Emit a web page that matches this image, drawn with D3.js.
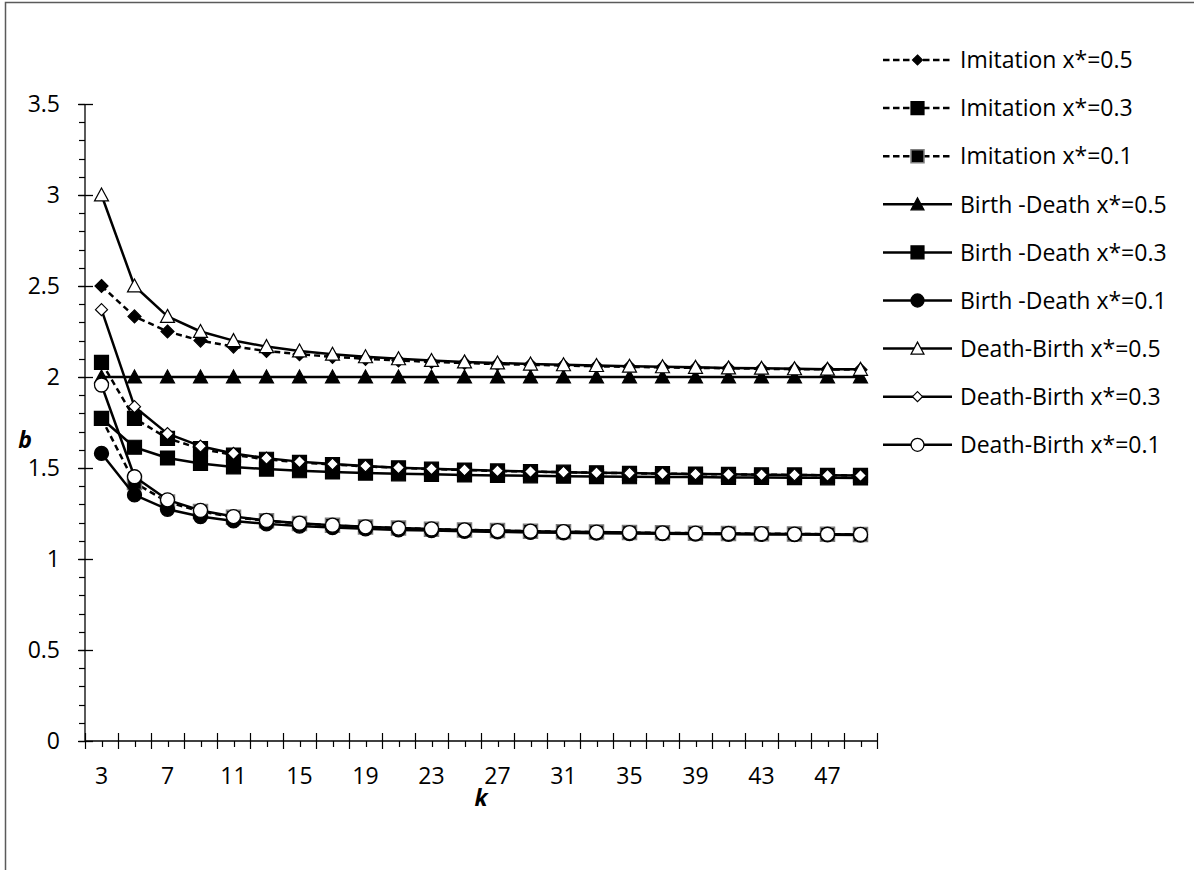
<!DOCTYPE html>
<html>
<head>
<meta charset="utf-8">
<script src="https://cdn.jsdelivr.net/npm/d3@7"></script>
<style>
  html, body { margin: 0; padding: 0; background: #fff; }
  svg { display: block; font-family: 'Open Sans', sans-serif; }
</style>
</head>
<body>
<svg width="1194" height="870"></svg>
<script>
// input data
const ks = [3, 5, 7, 9, 11, 13, 15, 17, 19, 21, 23, 25, 27, 29, 31, 33, 35, 37, 39, 41, 43, 45, 47, 49];
const xTickLabels = [3, 7, 11, 15, 19, 23, 27, 31, 35, 39, 43, 47];
const yTickLabels = [0, 0.5, 1, 1.5, 2, 2.5, 3, 3.5];

const imitation05 = [2.5, 2.333, 2.25, 2.2, 2.167, 2.143, 2.125, 2.111, 2.1, 2.091, 2.083, 2.077, 2.071, 2.067, 2.063, 2.059, 2.056, 2.053, 2.05, 2.048, 2.045, 2.043, 2.042, 2.04];
const imitation03 = [2.08, 1.773, 1.663, 1.606, 1.571, 1.548, 1.531, 1.519, 1.509, 1.501, 1.494, 1.489, 1.484, 1.48, 1.477, 1.474, 1.471, 1.469, 1.467, 1.465, 1.463, 1.462, 1.46, 1.459];
const imitation01 = [1.773, 1.42, 1.313, 1.261, 1.23, 1.21, 1.195, 1.185, 1.176, 1.17, 1.164, 1.16, 1.156, 1.153, 1.15, 1.148, 1.145, 1.144, 1.142, 1.14, 1.139, 1.138, 1.136, 1.135];
const birthDeath05 = [2, 2, 2, 2, 2, 2, 2, 2, 2, 2, 2, 2, 2, 2, 2, 2, 2, 2, 2, 2, 2, 2, 2, 2];
const birthDeath03 = [1.772, 1.614, 1.555, 1.525, 1.506, 1.494, 1.485, 1.478, 1.472, 1.468, 1.465, 1.462, 1.459, 1.457, 1.455, 1.453, 1.452, 1.451, 1.45, 1.448, 1.448, 1.447, 1.446, 1.445];
const birthDeath01 = [1.58, 1.352, 1.273, 1.233, 1.209, 1.193, 1.181, 1.173, 1.166, 1.16, 1.156, 1.152, 1.149, 1.146, 1.144, 1.142, 1.14, 1.139, 1.137, 1.136, 1.135, 1.134, 1.133, 1.132];
const deathBirth05 = [3, 2.5, 2.333, 2.25, 2.2, 2.167, 2.143, 2.125, 2.111, 2.1, 2.091, 2.083, 2.077, 2.071, 2.067, 2.063, 2.059, 2.056, 2.053, 2.05, 2.048, 2.045, 2.043, 2.042];
const deathBirth03 = [2.37, 1.837, 1.689, 1.62, 1.58, 1.554, 1.535, 1.522, 1.511, 1.502, 1.496, 1.49, 1.485, 1.481, 1.477, 1.474, 1.472, 1.469, 1.467, 1.465, 1.463, 1.462, 1.46, 1.459];
const deathBirth01 = [1.956, 1.452, 1.325, 1.267, 1.233, 1.212, 1.197, 1.186, 1.177, 1.17, 1.165, 1.16, 1.156, 1.153, 1.15, 1.148, 1.145, 1.143, 1.142, 1.14, 1.139, 1.137, 1.136, 1.135];

// series in drawing order (later ones sit on top)
const series = [
  { name: 'Imitation x*=0.5', values: imitation05, dashed: true, marker: 'diamond', fill: '#000', stroke: '#000', size: 13 },
  { name: 'Imitation x*=0.3', values: imitation03, dashed: true, marker: 'square', fill: '#000', stroke: '#000', size: 14 },
  { name: 'Imitation x*=0.1', values: imitation01, dashed: true, marker: 'square', fill: '#000', stroke: '#7f7f7f', size: 14 },
  { name: 'Birth -Death x*=0.5', values: birthDeath05, dashed: false, marker: 'triangle', fill: '#000', stroke: '#000', size: 14 },
  { name: 'Birth -Death x*=0.3', values: birthDeath03, dashed: false, marker: 'square', fill: '#000', stroke: '#000', size: 14 },
  { name: 'Birth -Death x*=0.1', values: birthDeath01, dashed: false, marker: 'circle', fill: '#000', stroke: '#000', size: 14 },
  { name: 'Death-Birth x*=0.5', values: deathBirth05, dashed: false, marker: 'triangle', fill: '#fff', stroke: '#000', size: 14 },
  { name: 'Death-Birth x*=0.3', values: deathBirth03, dashed: false, marker: 'diamond', fill: '#fff', stroke: '#000', size: 12 },
  { name: 'Death-Birth x*=0.1', values: deathBirth01, dashed: false, marker: 'circle', fill: '#fff', stroke: '#000', size: 14 },
];

const svg = d3.select('svg');
const fontSize = 23;

// plot area bounds, in pixels
const plot = { left: 85, right: 877, top: 104, bottom: 741 };

// outer frame of the chart (only top and left edges are inside the picture)
svg
  .append('rect')
  .attr('x', 5.5)
  .attr('y', 2.5)
  .attr('width', 1300)
  .attr('height', 1000)
  .attr('fill', 'none')
  .attr('stroke', '#5a5a5a')
  .attr('stroke-width', 1.5);

// scales
const x = d3
  .scalePoint()
  .domain(ks)
  .range([plot.left, plot.right])
  .padding(0.5);
const step = x.step();

const y = d3
  .scaleLinear()
  .domain([0, 3.5])
  .range([plot.bottom, plot.top]);

const axisColor = '#000';
const gAxes = svg.append('g');

// Y AXIS
gAxes
  .append('line')
  .attr('x1', plot.left)
  .attr('x2', plot.left)
  .attr('y1', y(3.5))
  .attr('y2', y(0))
  .attr('stroke', axisColor)
  .attr('stroke-width', 1.3);

// minor ticks every 0.1, outside only
gAxes
  .selectAll('line.yminor')
  .data(d3.range(0, 36).map(i => i / 10))
  .enter()
  .append('line')
  .attr('class', 'yminor')
  .attr('x1', plot.left - 6)
  .attr('x2', plot.left)
  .attr('y1', d => Math.round(y(d)) + 0.5)
  .attr('y2', d => Math.round(y(d)) + 0.5)
  .attr('stroke', axisColor)
  .attr('stroke-width', 1.2);

// major ticks cross the axis
gAxes
  .selectAll('line.ymajor')
  .data(yTickLabels)
  .enter()
  .append('line')
  .attr('class', 'ymajor')
  .attr('x1', plot.left - 7)
  .attr('x2', plot.left + 8)
  .attr('y1', d => Math.round(y(d)) + 0.5)
  .attr('y2', d => Math.round(y(d)) + 0.5)
  .attr('stroke', axisColor)
  .attr('stroke-width', 1.3);

gAxes
  .selectAll('text.ylabel')
  .data(yTickLabels)
  .enter()
  .append('text')
  .attr('class', 'ylabel')
  .attr('x', 60)
  .attr('y', d => y(d))
  .attr('dy', '0.36em')
  .attr('text-anchor', 'end')
  .attr('font-size', fontSize)
  .text(d => d);

// X AXIS
gAxes
  .append('line')
  .attr('x1', plot.left)
  .attr('x2', plot.right)
  .attr('y1', plot.bottom)
  .attr('y2', plot.bottom)
  .attr('stroke', axisColor)
  .attr('stroke-width', 1.3);

// major ticks on the category boundaries
gAxes
  .selectAll('line.xmajor')
  .data(ks.concat([null]))
  .enter()
  .append('line')
  .attr('class', 'xmajor')
  .attr('x1', (d, i) => Math.round(plot.left + i * step) + 0.5)
  .attr('x2', (d, i) => Math.round(plot.left + i * step) + 0.5)
  .attr('y1', plot.bottom - 8)
  .attr('y2', plot.bottom + 8)
  .attr('stroke', axisColor)
  .attr('stroke-width', 1.2);

// minor ticks in the middle of each category
gAxes
  .selectAll('line.xminor')
  .data(ks)
  .enter()
  .append('line')
  .attr('class', 'xminor')
  .attr('x1', d => Math.round(x(d)) + 0.5)
  .attr('x2', d => Math.round(x(d)) + 0.5)
  .attr('y1', plot.bottom)
  .attr('y2', plot.bottom + 6)
  .attr('stroke', axisColor)
  .attr('stroke-width', 1.2);

gAxes
  .selectAll('text.xlabel')
  .data(xTickLabels)
  .enter()
  .append('text')
  .attr('class', 'xlabel')
  .attr('x', d => x(d))
  .attr('y', 784)
  .attr('text-anchor', 'middle')
  .attr('font-size', fontSize)
  .text(d => d);

// axis titles
svg
  .append('text')
  .attr('x', 25)
  .attr('y', 448)
  .attr('text-anchor', 'middle')
  .attr('font-size', fontSize)
  .attr('font-weight', 'bold')
  .attr('font-style', 'italic')
  .text('b');

svg
  .append('text')
  .attr('x', 481)
  .attr('y', 806)
  .attr('text-anchor', 'middle')
  .attr('font-size', fontSize)
  .attr('font-weight', 'bold')
  .attr('font-style', 'italic')
  .text('k');

// MARKERS
// return a path string centred on 0 0 for the given marker type and size
const markerPath = (type, s) => {
  const h = s / 2;
  if (type === 'square') return `M ${-h} ${-h} H ${h} V ${h} H ${-h} Z`;
  if (type === 'diamond') return `M 0 ${-h} L ${h} 0 L 0 ${h} L ${-h} 0 Z`;
  return `M 0 ${-h} L ${h} ${h * 0.85} L ${-h} ${h * 0.85} Z`;
};

const drawMarker = (sel, s, size) => {
  if (s.marker === 'circle') {
    sel
      .append('circle')
      .attr('r', size / 2)
      .attr('fill', s.fill)
      .attr('stroke', s.stroke)
      .attr('stroke-width', 1.3);
  } else {
    sel
      .append('path')
      .attr('d', markerPath(s.marker, size))
      .attr('fill', s.fill)
      .attr('stroke', s.stroke)
      .attr('stroke-width', s.stroke === '#000' ? 1.2 : 1.5)
      .attr('stroke-linejoin', 'miter');
  }
};

// SERIES
const line = d3
  .line()
  .x((d, i) => x(ks[i]))
  .y(d => y(d));

const gSeries = svg.append('g');

series.forEach(s => {
  const g = gSeries.append('g');
  g.append('path')
    .attr('d', line(s.values))
    .attr('fill', 'none')
    .attr('stroke', '#000')
    .attr('stroke-width', 2.5)
    .attr('stroke-dasharray', s.dashed ? '6,4' : null)
    .attr('stroke-linejoin', 'round');

  g.selectAll('g.pt')
    .data(s.values)
    .enter()
    .append('g')
    .attr('class', 'pt')
    .attr('transform', (d, i) => `translate(${x(ks[i])} ${y(d)})`)
    .each(function() {
      drawMarker(d3.select(this), s, s.size);
    });
});

// LEGEND
const legend = svg
  .append('g')
  .attr('transform', 'translate(883 60)');

const rowHeight = 48.1;

const rows = legend
  .selectAll('g')
  .data(series)
  .enter()
  .append('g')
  .attr('transform', (d, i) => `translate(0 ${i * rowHeight})`);

rows
  .append('path')
  .attr('d', 'M 0 0 H 69')
  .attr('stroke', '#000')
  .attr('stroke-width', 2.5)
  .attr('stroke-dasharray', d => (d.dashed ? '6.5,3.5' : null));

rows.each(function(d) {
  const g = d3.select(this).append('g').attr('transform', 'translate(34.5 0)');
  const size = d.marker === 'diamond' ? 10 : 13;
  drawMarker(g, d, size);
});

rows
  .append('text')
  .attr('x', 77)
  .attr('y', 0)
  .attr('dy', '0.36em')
  .attr('font-size', fontSize)
  .text(d => d.name);
</script>
</body>
</html>
